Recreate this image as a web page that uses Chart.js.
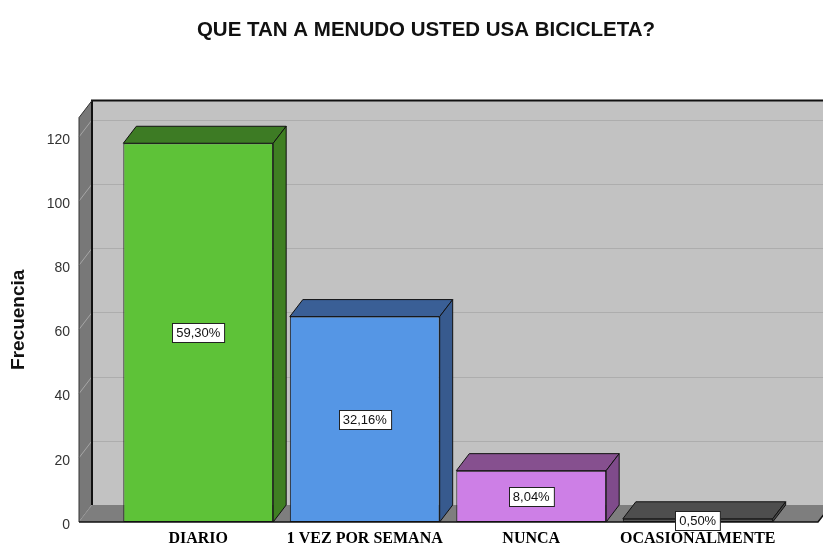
<!DOCTYPE html>
<html>
<head>
<meta charset="utf-8">
<script src="https://cdn.jsdelivr.net/npm/chart.js@4"></script>
<style>
  html, body { margin: 0; padding: 0; background: #fff; overflow: hidden; }
  canvas { display: block; }
</style>
</head>
<body>
<canvas id="myChart" width="823" height="546"></canvas>
<script>
var categories = ['DIARIO', '1 VEZ POR SEMANA', 'NUNCA', 'OCASIONALMENTE'];
var frecuencia = [118, 64, 16, 1];
var porcentajes = ['59,30%', '32,16%', '8,04%', '0,50%'];
var tickValues = [0, 20, 40, 60, 80, 100, 120];

var frontColors = ['#5ec238', '#5596e5', '#cd7fe6', '#5a5a5a'];
var topColors = ['#3d7b24', '#3a5f96', '#86508f', '#4e4e4e'];
var sideColors = ['#3f7f22', '#375a8e', '#7f4b8b', '#484848'];

// depth of the fake 3d
var DX = 13, DY = -17;

var box3d = {
    id: 'box3d',
    beforeDatasetsDraw: function(chart) {
        var c = chart.ctx, a = chart.chartArea, y = chart.scales.y;
        var FL = a.left - 36, FR = a.right + 37, FT = a.top, FB = a.bottom;
        c.save();
        // back wall
        c.fillStyle = '#c2c2c2';
        c.fillRect(FL + DX, FT + DY, FR - FL, FB - FT);
        // grid on back wall
        c.strokeStyle = '#adadad';
        c.lineWidth = 1;
        tickValues.forEach(function(v) {
            var py = Math.round(y.getPixelForValue(v) + DY) + 0.5;
            c.beginPath();
            c.moveTo(FL + DX, py);
            c.lineTo(FR + DX, py);
            c.stroke();
        });
        // side wall
        c.fillStyle = '#787878';
        c.beginPath();
        c.moveTo(FL, FT); c.lineTo(FL + DX, FT + DY); c.lineTo(FL + DX, FB + DY); c.lineTo(FL, FB);
        c.closePath(); c.fill();
        c.strokeStyle = '#a6a6a6';
        tickValues.forEach(function(v) {
            var py = y.getPixelForValue(v);
            c.beginPath();
            c.moveTo(FL, py);
            c.lineTo(FL + DX, py + DY);
            c.stroke();
        });
        // floor
        c.fillStyle = '#7e7e7e';
        c.beginPath();
        c.moveTo(FL, FB); c.lineTo(FL + DX, FB + DY); c.lineTo(FR + DX, FB + DY); c.lineTo(FR, FB);
        c.closePath(); c.fill();
        // edges
        c.strokeStyle = '#111';
        c.lineWidth = 2;
        c.beginPath();
        c.moveTo(FR + DX, FT + DY); c.lineTo(FL + DX, FT + DY); c.lineTo(FL + DX, FB + DY);
        c.stroke();
        c.lineWidth = 1;
        c.strokeStyle = '#333';
        c.beginPath();
        c.moveTo(FL + DX, FT + DY); c.lineTo(FL, FT); c.lineTo(FL, FB);
        c.stroke();
        c.strokeStyle = '#111';
        c.lineWidth = 1.5;
        c.beginPath();
        c.moveTo(FL, FB); c.lineTo(FR, FB); c.lineTo(FR + DX, FB + DY);
        c.stroke();
        c.restore();
    },
    afterDatasetsDraw: function(chart) {
        var c = chart.ctx;
        var meta = chart.getDatasetMeta(0);
        c.save();
        c.lineWidth = 1;
        c.strokeStyle = '#111';
        meta.data.forEach(function(bar, i) {
            var L = bar.x - bar.width / 2, R = bar.x + bar.width / 2;
            var T = bar.y, B = bar.base;
            // top face
            c.fillStyle = topColors[i];
            c.beginPath();
            c.moveTo(L, T); c.lineTo(L + DX, T + DY); c.lineTo(R + DX, T + DY); c.lineTo(R, T);
            c.closePath(); c.fill(); c.stroke();
            // side face
            c.fillStyle = sideColors[i];
            c.beginPath();
            c.moveTo(R, T); c.lineTo(R + DX, T + DY); c.lineTo(R + DX, B + DY); c.lineTo(R, B);
            c.closePath(); c.fill(); c.stroke();
        });
        // percentage labels
        c.font = '13px "Liberation Sans", Arial, sans-serif';
        c.textAlign = 'center';
        c.textBaseline = 'middle';
        meta.data.forEach(function(bar, i) {
            var txt = porcentajes[i];
            var w = c.measureText(txt).width + 8, h = 19;
            var cx = bar.x, cy = (bar.y + bar.base) / 2;
            var bx = Math.round(cx - w / 2) + 0.5, by = Math.round(cy - h / 2) + 0.5;
            c.fillStyle = '#fff';
            c.fillRect(bx, by, w, h);
            c.strokeStyle = '#222';
            c.strokeRect(bx, by, w, h);
            c.fillStyle = '#111';
            c.fillText(txt, cx, cy + 1);
        });
        c.restore();
    }
};

var ctx = document.getElementById('myChart').getContext('2d');
var myChart = new Chart(ctx, {
    type: 'bar',
    data: {
        labels: categories,
        datasets: [{
            label: 'Frecuencia',
            data: frecuencia,
            backgroundColor: frontColors,
            borderColor: '#111',
            borderWidth: 1,
            borderSkipped: false,
            categoryPercentage: 1,
            barPercentage: 0.9
        }]
    },
    options: {
        responsive: false,
        animation: false,
        devicePixelRatio: 1,
        layout: { padding: { left: 29, right: 0, top: 0, bottom: 0 } },
        plugins: {
            legend: { display: false },
            tooltip: { enabled: false },
            title: {
                display: true,
                text: 'QUE TAN A MENUDO USTED USA BICICLETA?',
                color: '#111',
                font: { family: '"Liberation Sans", Arial, sans-serif', size: 20.5, weight: 'bold' },
                padding: { top: 18, bottom: 75 }
            }
        },
        scales: {
            x: {
                grid: { display: false, drawTicks: false },
                border: { display: false },
                ticks: {
                    color: '#000',
                    padding: 7,
                    font: { family: '"Liberation Serif", "Times New Roman", serif', size: 16, weight: 'bold' }
                },
                afterFit: function(s) { s.height = 24; s.paddingLeft = 0; s.paddingRight = 0; }
            },
            y: {
                min: 0,
                max: 126,
                grid: { display: false, drawTicks: false },
                border: { display: false },
                ticks: {
                    stepSize: 20,
                    padding: 45,
                    labelOffset: 3,
                    color: '#333',
                    font: { family: '"Liberation Sans", Arial, sans-serif', size: 14 }
                },
                afterBuildTicks: function(s) {
                    s.ticks = tickValues.map(function(v) { return { value: v }; });
                },
                title: {
                    display: true,
                    text: 'Frecuencia',
                    color: '#111',
                    font: { family: '"Liberation Sans", Arial, sans-serif', size: 19, weight: 'bold' },
                    padding: { top: -22, bottom: 0 }
                },
                afterFit: function(s) { s.width = 86; s.paddingTop = 0; s.paddingBottom = 0; }
            },
            yRight: {
                position: 'right',
                display: true,
                grid: { display: false, drawTicks: false },
                border: { display: false },
                ticks: { display: false },
                afterFit: function(s) { s.width = 42; s.paddingTop = 0; s.paddingBottom = 0; }
            }
        }
    },
    plugins: [box3d]
});
</script>
</body>
</html>
